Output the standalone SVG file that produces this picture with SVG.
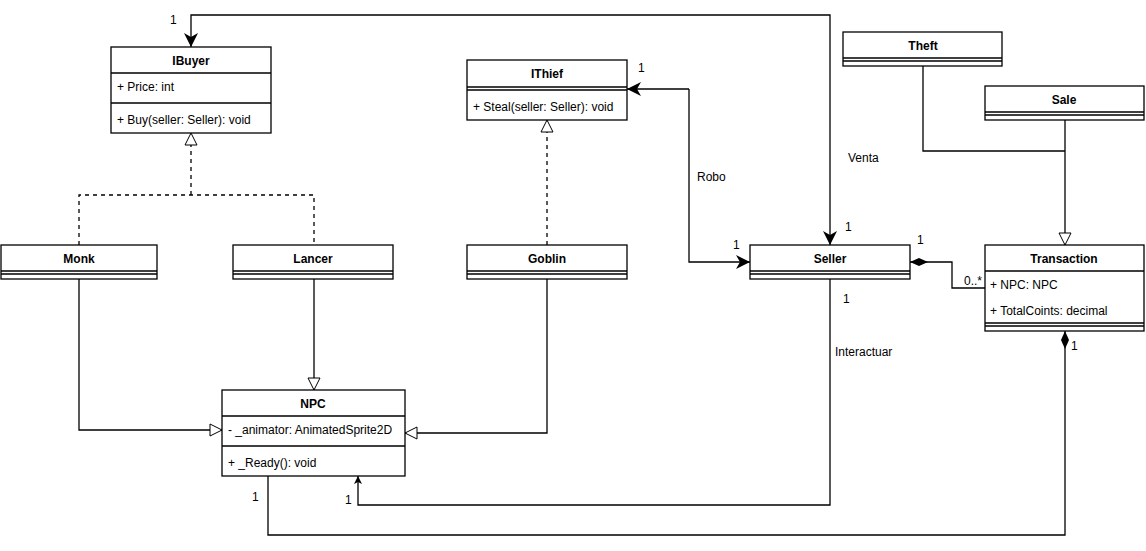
<svg xmlns="http://www.w3.org/2000/svg" width="1146" height="551" viewBox="0 0 1146 551">
<style>
.b{fill:#fff;stroke:#000;stroke-width:1.3}
.l{fill:none;stroke:#000;stroke-width:1.3}
.t{font-family:"Liberation Sans",Arial,sans-serif;font-size:12px;fill:#000}
.h{font-weight:bold;text-anchor:middle}
.d{stroke-dasharray:4,4}
</style>
<defs>
<marker id="tri" markerWidth="14" markerHeight="14" refX="13" refY="7" orient="auto" markerUnits="userSpaceOnUse"><path d="M1,1 L13,7 L1,13 Z" fill="#fff" stroke="#000"/></marker>
<marker id="arr" markerWidth="16" markerHeight="16" refX="15" refY="8" orient="auto" markerUnits="userSpaceOnUse"><path d="M1,1 L15,8 L1,15 L5,8 Z" fill="#000"/></marker>
<marker id="sarr" markerWidth="10" markerHeight="10" refX="9" refY="5" orient="auto" markerUnits="userSpaceOnUse"><path d="M1,1 L9,5 L1,9 L3,5 Z" fill="#000"/></marker>
<marker id="dia" markerWidth="22" markerHeight="10" refX="19" refY="5" orient="auto" markerUnits="userSpaceOnUse"><path d="M1,5 L10,1 L19,5 L10,9 Z" fill="#000"/></marker>
</defs>
<g id="connectors">
<path class="l" d="M830,130 V15 H191 V47" marker-end="url(#arr)"/>
<path class="l" d="M830,130 V245" marker-end="url(#arr)"/>
<path class="l" d="M689,89 V262 H750" marker-end="url(#arr)"/>
<path class="l" d="M689,89 H627" marker-end="url(#arr)"/>
<path class="l d" d="M79,245 V195 H314 V245 M191,195 V133" marker-end="url(#tri)"/>
<path class="l d" d="M547,245 V120" marker-end="url(#tri)"/>
<path class="l" d="M314,278 V390" marker-end="url(#tri)"/>
<path class="l" d="M79,278 V430 H222" marker-end="url(#tri)"/>
<path class="l" d="M547,278 V433 H405" marker-end="url(#tri)"/>
<path class="l" d="M830,278 V505 H358 V476" marker-end="url(#sarr)"/>
<path class="l" d="M985,288 H952 V262 H910" marker-end="url(#dia)"/>
<path class="l" d="M268,476 V535 H1065 V331" marker-end="url(#dia)"/>
<path class="l" d="M923,66 V151 H1065"/>
<path class="l" d="M1065,120 V245" marker-end="url(#tri)"/>
<text class="t" x="170" y="24">1</text>
<text class="t" x="845" y="231">1</text>
<text class="t" x="848" y="162">Venta</text>
<text class="t" x="638" y="72">1</text>
<text class="t" x="733" y="249">1</text>
<text class="t" x="697" y="181">Robo</text>
<text class="t" x="843" y="303">1</text>
<text class="t" x="835" y="356">Interactuar</text>
<text class="t" x="345" y="504">1</text>
<text class="t" x="917" y="244">1</text>
<text class="t" x="964" y="285" font-size="11">0..*</text>
<text class="t" x="252" y="501">1</text>
<text class="t" x="1071" y="350">1</text>
</g>
<g id="IBuyer"><rect class="b" x="111" y="47" width="160" height="86"/><path class="l" d="M111,73 H271 M111,103 H271"/>
<text class="t h" x="191" y="65">IBuyer</text><text class="t" x="117" y="91">+ Price: int</text><text class="t" x="117" y="124">+ Buy(seller: Seller): void</text></g>
<g id="IThief"><rect class="b" x="467" y="60" width="160" height="60"/><path class="l" d="M467,87 H627 M467,90 H627"/>
<text class="t h" x="547" y="78">IThief</text><text class="t" x="473" y="111">+ Steal(seller: Seller): void</text></g>
<g id="Monk"><rect class="b" x="1" y="245" width="156" height="34"/><path class="l" d="M1,271 H157 M1,274 H157"/><text class="t h" x="79" y="263">Monk</text></g>
<g id="Lancer"><rect class="b" x="233" y="245" width="160" height="34"/><path class="l" d="M233,271 H393 M233,274 H393"/><text class="t h" x="313" y="263">Lancer</text></g>
<g id="Goblin"><rect class="b" x="467" y="245" width="160" height="34"/><path class="l" d="M467,271 H627 M467,274 H627"/><text class="t h" x="547" y="263">Goblin</text></g>
<g id="Seller"><rect class="b" x="750" y="245" width="160" height="34"/><path class="l" d="M750,271 H910 M750,274 H910"/><text class="t h" x="830" y="263">Seller</text></g>
<g id="Theft"><rect class="b" x="843" y="32" width="159" height="34"/><path class="l" d="M843,58 H1002 M843,61 H1002"/><text class="t h" x="923" y="50">Theft</text></g>
<g id="Sale"><rect class="b" x="985" y="86" width="159" height="34"/><path class="l" d="M985,112 H1144 M985,115 H1144"/><text class="t h" x="1064" y="104">Sale</text></g>
<g id="Transaction"><rect class="b" x="985" y="245" width="159" height="86"/><path class="l" d="M985,271 H1144 M985,323 H1144 M985,326 H1144"/>
<text class="t h" x="1064" y="263">Transaction</text><text class="t" x="990" y="289">+ NPC: NPC</text><text class="t" x="990" y="315">+ TotalCoints: decimal</text></g>
<g id="NPC"><rect class="b" x="222" y="390" width="183" height="86"/><path class="l" d="M222,416 H405 M222,446 H405"/>
<text class="t h" x="313" y="408">NPC</text><text class="t" x="228" y="434">- _animator: AnimatedSprite2D</text><text class="t" x="228" y="467">+ _Ready(): void</text></g>
</svg>
